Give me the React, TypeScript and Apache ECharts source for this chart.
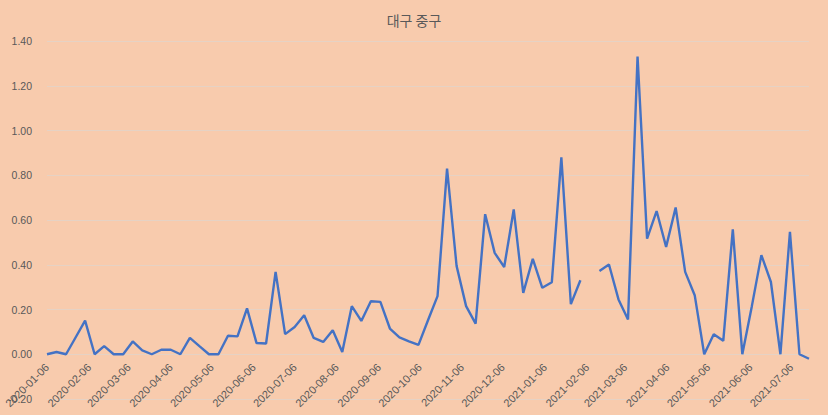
import React, { useEffect, useRef } from "react";
import * as echarts from "echarts";

const title = "대구 중구";
const startDate = "2020-01-06";
const endDate = "2021-07-19";
// weekly values, starting 2020-01-06 (null = missing week)
const weeklyValues: (number | null)[] = [
  0.0, 0.01, 0.0, 0.075, 0.15, 0.0, 0.036, 0.0, 0.0, 0.057,
  0.017, 0.0, 0.02, 0.02, 0.0, 0.073, 0.036, 0.0, 0.0, 0.083,
  0.08, 0.205, 0.05, 0.048, 0.368, 0.09, 0.122, 0.174, 0.073, 0.055,
  0.107, 0.01, 0.215, 0.149, 0.237, 0.234, 0.115, 0.075, 0.058, 0.042,
  0.152, 0.26, 0.83, 0.395, 0.215, 0.137, 0.626, 0.453, 0.39, 0.647,
  0.274, 0.426, 0.297, 0.322, 0.88, 0.224, 0.331, null, 0.372, 0.401,
  0.245, 0.155, 1.33, 0.517, 0.64, 0.48, 0.656, 0.368, 0.264, 0.0,
  0.089, 0.06, 0.558, 0.0, 0.215, 0.443, 0.323, 0.0, 0.547, 0.0,
  -0.02,
];
const yMin = -0.2;
const yMax = 1.4;
const yStep = 0.2;

function fmt(d: Date): string {
  return d.toISOString().slice(0, 10);
}

function buildDays(): string[] {
  const out: string[] = [];
  const s = new Date(startDate + "T00:00:00Z");
  const e = new Date(endDate + "T00:00:00Z");
  for (let t = s.getTime(); t <= e.getTime(); t += 86400000) out.push(fmt(new Date(t)));
  return out;
}

const GRID_TOP = 41;
const GRID_BOTTOM = 16;
const H = 415;

export default function App() {
  const ref = useRef<HTMLDivElement>(null);
  useEffect(() => {
    document.body.style.margin = "0";
    document.body.style.background = "#F8CBAD";
    const chart = echarts.init(ref.current!, null, { renderer: "svg" });
    const days = buildDays();
    const s = new Date(startDate + "T00:00:00Z").getTime();
    const seriesData = weeklyValues.map((v, i) => [
      fmt(new Date(s + i * 7 * 86400000)),
      v === null ? "-" : v,
    ]);
    // place the category axis at the value 0 (as Excel does)
    const plotH = H - GRID_TOP - GRID_BOTTOM;
    const zeroOffset = -((0 - yMin) / (yMax - yMin)) * plotH;
    const fontFamily = "'Liberation Sans', 'Noto Sans CJK KR', sans-serif";
    chart.setOption({
      animation: false,
      backgroundColor: "#F8CBAD",
      title: {
        text: title,
        left: "center",
        top: 8,
        textStyle: {
          fontSize: 14,
          fontWeight: "normal",
          color: "#595959",
          fontFamily: "'Noto Sans CJK KR', sans-serif",
        },
      },
      grid: {
        left: 47,
        right: 19,
        top: GRID_TOP,
        bottom: GRID_BOTTOM,
        containLabel: false,
        outerBoundsMode: "none",
      },
      xAxis: {
        type: "category",
        data: days,
        boundaryGap: false,
        offset: zeroOffset,
        axisLine: { show: true, onZero: false, lineStyle: { color: "#E6D2C4", width: 1 } },
        axisTick: { show: false },
        splitLine: { show: false },
        axisLabel: {
          interval: (idx: number, val: string) => val.slice(8) === "06",
          rotate: 45,
          margin: 11,
          fontSize: 11,
          color: "#595959",
          fontFamily,
        },
      },
      yAxis: {
        type: "value",
        min: yMin,
        max: yMax,
        interval: yStep,
        axisLine: { show: false },
        axisTick: { show: false },
        splitLine: { lineStyle: { color: "#E6D2C4", width: 1 } },
        axisLabel: {
          formatter: (v: number) => v.toFixed(2),
          fontSize: 10.5,
          color: "#595959",
          margin: 15,
          fontFamily,
        },
      },
      series: [
        {
          type: "line",
          data: seriesData,
          showSymbol: false,
          connectNulls: false,
          lineStyle: { color: "#4472C4", width: 2.4 },
          itemStyle: { color: "#4472C4" },
        },
      ],
    });
    return () => chart.dispose();
  }, []);
  return (
    <div
      ref={ref}
      style={{ position: "absolute", left: 0, top: 0, width: 828, height: 415 }}
    />
  );
}
